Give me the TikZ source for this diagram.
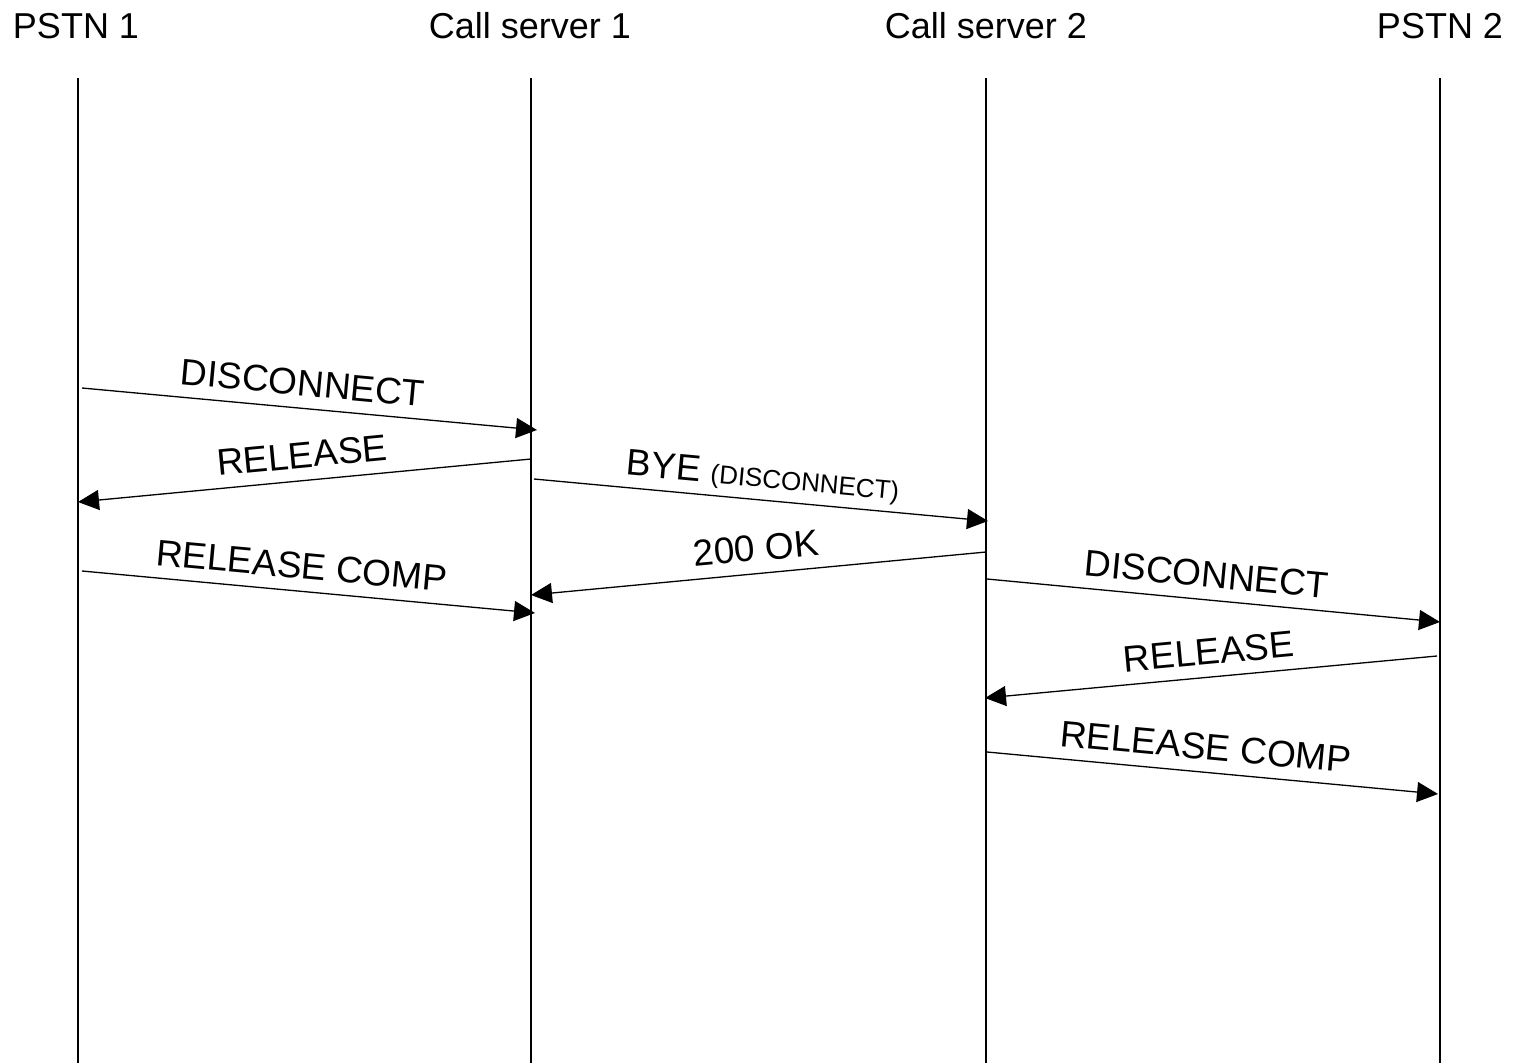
\documentclass[tikz,border=0pt]{standalone}
\usepackage{fontspec}
\setmainfont{Liberation Sans}
\usetikzlibrary{arrows.meta}
\begin{document}
\begin{tikzpicture}[x=1pt,y=-1pt,
  life/.style={line width=1.3pt},
  msg/.style={line width=1.3pt,-{Triangle[length=21pt,width=20pt]}},
  head/.style={font=\fontsize{36}{40}\selectfont, anchor=base, inner sep=0pt},
  lbl/.style={font=\fontsize{37}{42}\selectfont, sloped, above=12pt, inner sep=0pt, text depth=0pt}]
\useasboundingbox (0,0) rectangle (1516,1063);
% headers
\node[head] (h1) at (76,38) {PSTN 1};
\node[head] (h2) at (530,38) {Call server 1};
\node[head] (h3) at (986,38) {Call server 2};
\node[head] (h4) at (1440,38) {PSTN 2};
% lifelines
\coordinate (t1) at (78,78);   \coordinate (b1) at (78,1063);
\coordinate (t2) at (531,78);  \coordinate (b2) at (531,1063);
\coordinate (t3) at (986,78);  \coordinate (b3) at (986,1063);
\coordinate (t4) at (1440,78); \coordinate (b4) at (1440,1063);
\draw[life] (t1) -- (b1);
\draw[life] (t2) -- (b2);
\draw[life] (t3) -- (b3);
\draw[life] (t4) -- (b4);
% message end points
\coordinate (m1s) at (82,388);   \coordinate (m1e) at (537,430);
\coordinate (m2s) at (531,459);  \coordinate (m2e) at (78,502);
\coordinate (m3s) at (534,479);  \coordinate (m3e) at (988,521);
\coordinate (m4s) at (82,571);   \coordinate (m4e) at (535,613);
\coordinate (m5s) at (986,552);  \coordinate (m5e) at (531,595);
\coordinate (m6s) at (987,579);  \coordinate (m6e) at (1440,622);
\coordinate (m7s) at (1437,656); \coordinate (m7e) at (985,698);
\coordinate (m8s) at (987,752);  \coordinate (m8e) at (1438,794);
% messages
\draw[msg] (m1s) -- node[lbl,pos=0.48] (l1) {DISCONNECT} (m1e);
\draw[msg] (m2s) -- node[lbl,pos=0.5] (l2) {RELEASE} (m2e);
\draw[msg] (m3s) -- node[lbl,pos=0.5] (l3) {BYE {\fontsize{26}{30}\selectfont(DISCONNECT)}} (m3e);
\draw[msg] (m4s) -- node[lbl,pos=0.48] (l4) {RELEASE COMP} (m4e);
\draw[msg] (m5s) -- node[lbl,pos=0.5] (l5) {200 OK} (m5e);
\draw[msg] (m6s) -- node[lbl,pos=0.48] (l6) {DISCONNECT} (m6e);
\draw[msg] (m7s) -- node[lbl,pos=0.5] (l7) {RELEASE} (m7e);
\draw[msg] (m8s) -- node[lbl,pos=0.48] (l8) {RELEASE COMP} (m8e);
\end{tikzpicture}
\end{document}
